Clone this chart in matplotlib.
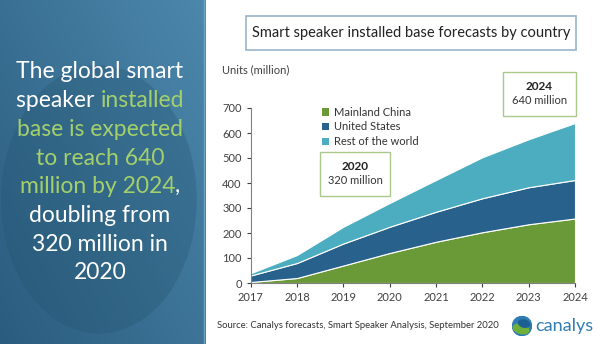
import matplotlib.pyplot as plt
import numpy as np
from matplotlib.patches import Rectangle, Ellipse, Patch, Circle

plt.rcParams["font.family"] = ["Lato", "DejaVu Sans"]

# installed base, million units
years = [2017, 2018, 2019, 2020, 2021, 2022, 2023, 2024]
china = [4, 20, 70, 120, 165, 203, 235, 258]
united_states = [26, 60, 88, 105, 120, 136, 148, 154]
rest_of_world = [9, 32, 67, 95, 127, 164, 192, 228]
series_labels = ["Mainland China", "United States", "Rest of the world"]
series_colors = ["#6a9a38", "#28628c", "#4badbf"]

yticks = [0, 100, 200, 300, 400, 500, 600, 700]

headline = [
    [("The global smart", "white")],
    [("speaker ", "white"), ("installed", "green")],
    [("base is expected", "green")],
    [("to reach 640", "green")],
    [("million by 2024", "green"), (",", "white")],
    [("doubling from", "white")],
    [("320 million in", "white")],
    [("2020", "white")],
]
text_colors = {"white": "#ffffff", "green": "#a4d06c"}

W, H = 600, 344
fig = plt.figure(figsize=(6.0, 3.44), dpi=100)
fig.patch.set_facecolor("white")


def fx(px):
    return px / W


def fy(py):
    return 1 - py / H


# left side panel with a soft blue gradient
pan = fig.add_axes([0, 0, fx(206), 1])
gx, gy = np.meshgrid(np.linspace(0, 1, 120), np.linspace(0, 1, 200))
shade = 0.55 * gx + 0.45 * (1 - gy)
c_dark = np.array([0x2a, 0x5c, 0x7e]) / 255
c_light = np.array([0x4c, 0x88, 0xac]) / 255
img = c_dark[None, None, :] * (1 - shade[..., None]) + c_light[None, None, :] * shade[..., None]
pan.imshow(img, extent=[0, 1, 0, 1], aspect="auto", origin="upper")
pan.add_patch(Ellipse((0.48, 0.42), 0.95, 0.78, color="#23536f", alpha=0.3, lw=0))
pan.axvline(0.99, color="#6fa3c2", lw=1.0)
pan.set_xlim(0, 1)
pan.set_ylim(0, 1)
pan.axis("off")

renderer = fig.canvas.get_renderer()


def text_width(s, size):
    t = fig.text(0, 0, s, fontsize=size)
    w = t.get_window_extent(renderer=renderer).width
    t.remove()
    return w


hl_size = 16.5
space_w = text_width("x x", hl_size) - text_width("xx", hl_size)
for i, parts in enumerate(headline):
    y = 72 + i * 28.7
    widths = []
    for txt, _ in parts:
        core = txt.rstrip()
        widths.append(text_width(core, hl_size) + (len(txt) - len(core)) * space_w)
    x = 100 - sum(widths) / 2
    for (txt, col), w in zip(parts, widths):
        fig.text(fx(x), fy(y), txt, fontsize=hl_size, color=text_colors[col],
                 ha="left", va="center")
        x += w

# chart title box
fig.patches.append(Rectangle((fx(246), fy(50)), fx(330), 34 / H, transform=fig.transFigure,
                             fill=False, edgecolor="#9ab4cb", lw=1.2))
fig.text(fx(411), fy(33), "Smart speaker installed base forecasts by country",
         fontsize=10.5, color="#222222", ha="center", va="center")

# stacked area chart
ax = fig.add_axes([fx(250.7), fy(283), fx(575 - 250.7), (283 - 108) / H])
ax.stackplot(years, china, united_states, rest_of_world, colors=series_colors,
             edgecolor="white", lw=0.8)
ax.set_xlim(2017, 2024)
ax.set_ylim(0, 700)
ax.set_xticks(years)
ax.set_yticks(yticks)
ax.tick_params(labelsize=8, colors="#404040", length=3, width=0.8)
for side in ["top", "right"]:
    ax.spines[side].set_visible(False)
for side in ["left", "bottom"]:
    ax.spines[side].set_color("#808080")
    ax.spines[side].set_zorder(5)
ax.set_facecolor("none")

fig.text(fx(222), fy(70), "Units (million)", fontsize=8, color="#404040",
         ha="left", va="center")

handles = [Patch(facecolor=c, edgecolor="none") for c in series_colors]
ax.legend(handles, series_labels, loc="upper left", bbox_to_anchor=(fx(316), fy(101)),
          bbox_transform=fig.transFigure, frameon=False, fontsize=8,
          handlelength=0.7, handleheight=0.7, handletextpad=0.4, labelspacing=0.35,
          borderpad=0, labelcolor="#333333")

# callout boxes
for x0, y0, w, h, yr, val in [(320, 152, 70, 44, "2020", "320 million"),
                              (503, 72, 73, 44, "2024", "640 million")]:
    fig.patches.append(Rectangle((fx(x0), fy(y0 + h)), fx(w), h / H,
                                 transform=fig.transFigure, facecolor="white",
                                 edgecolor="#aac88c", lw=1.0))
    fig.text(fx(x0 + w / 2), fy(y0 + 15), yr, fontsize=8.5, fontweight="bold",
             color="#222222", ha="center", va="center")
    fig.text(fx(x0 + w / 2), fy(y0 + 28), val, fontsize=8, color="#333333",
             ha="center", va="center")

fig.text(fx(217), fy(325), "Source: Canalys forecasts, Smart Speaker Analysis, September 2020",
         fontsize=6.8, color="#333333", ha="left", va="center")

# canalys logo
logo = fig.add_axes([fx(512), fy(336), fx(20), 20 / H])
logo.add_patch(Circle((0.5, 0.5), 0.48, color="#2d7db3"))
logo.add_patch(Ellipse((0.45, 0.35), 0.8, 0.45, angle=-15, color="#6fb03a"))
logo.add_patch(Ellipse((0.6, 0.62), 0.55, 0.35, angle=-15, color="#1c5f93"))
logo.set_xlim(0, 1)
logo.set_ylim(0, 1)
logo.set_aspect("equal")
logo.axis("off")
fig.text(fx(535), fy(326), "canalys", fontsize=13, color="#2f7db3", ha="left", va="center")

fig.savefig("out.png", dpi=100)
